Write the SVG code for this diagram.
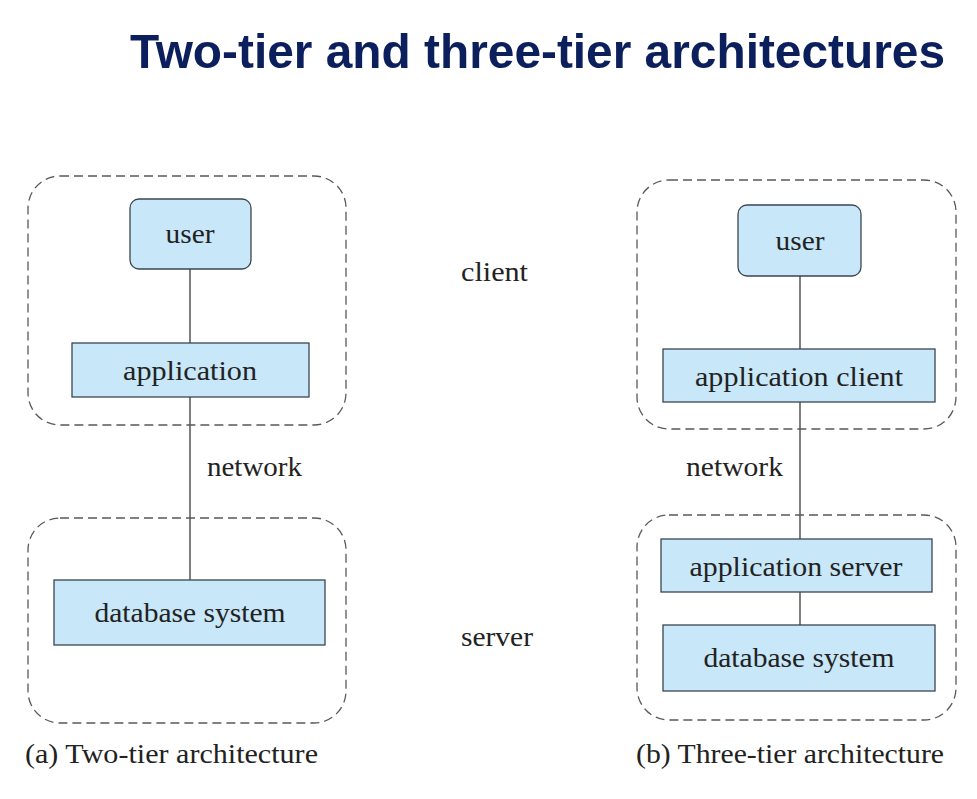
<svg xmlns="http://www.w3.org/2000/svg" width="977" height="799" viewBox="0 0 977 799">
<style>
.bg{fill:#ffffff}
.title{font-family:"Liberation Sans",Arial,sans-serif;font-weight:bold;font-size:49px;fill:#0b1f5c}
.grp{fill:none;stroke:#555a5e;stroke-width:1.3;stroke-dasharray:9,5}
.box{fill:#c8e7f8;stroke:#3c4650;stroke-width:1.3}
.lbl{font-family:"Liberation Serif","Times New Roman",serif;font-size:28px;fill:#222;text-anchor:middle}
.txt{font-family:"Liberation Serif","Times New Roman",serif;font-size:28px;fill:#222}
.ln{stroke:#3a3a3a;stroke-width:1.3;fill:none}
</style>
<rect class="bg" x="0" y="0" width="977" height="799"/>
<text class="title" x="130" y="68" textLength="815" lengthAdjust="spacingAndGlyphs">Two-tier and three-tier architectures</text>

<g id="connectors">
<line class="ln" x1="190" y1="269" x2="190" y2="343"/>
<line class="ln" x1="190" y1="397" x2="190" y2="580"/>
<line class="ln" x1="800" y1="276" x2="800" y2="349"/>
<line class="ln" x1="800" y1="402" x2="800" y2="539"/>
<line class="ln" x1="800" y1="592" x2="800" y2="625"/>
</g>

<g id="two-tier-client"><rect class="grp" x="28" y="176" width="318" height="249" rx="32"/></g>
<g id="two-tier-server"><rect class="grp" x="28" y="518" width="318" height="205" rx="32"/></g>
<g id="three-tier-client"><rect class="grp" x="637" y="180" width="319" height="249" rx="32"/></g>
<g id="three-tier-server"><rect class="grp" x="637" y="515" width="319" height="205" rx="32"/></g>

<g id="a-user">
<rect class="box" x="130" y="199" width="121" height="70" rx="9"/>
<text class="lbl" x="190" y="243" textLength="49" lengthAdjust="spacingAndGlyphs">user</text>
</g>
<g id="a-application">
<rect class="box" x="72" y="343" width="237" height="54"/>
<text class="lbl" x="190" y="380" textLength="134" lengthAdjust="spacingAndGlyphs">application</text>
</g>
<g id="a-database">
<rect class="box" x="54" y="580" width="271" height="65"/>
<text class="lbl" x="190" y="622" textLength="191" lengthAdjust="spacingAndGlyphs">database system</text>
</g>

<g id="b-user">
<rect class="box" x="738" y="205" width="123" height="71" rx="9"/>
<text class="lbl" x="800" y="250" textLength="49" lengthAdjust="spacingAndGlyphs">user</text>
</g>
<g id="b-appclient">
<rect class="box" x="663" y="349" width="272" height="53"/>
<text class="lbl" x="799" y="386" textLength="208" lengthAdjust="spacingAndGlyphs">application client</text>
</g>
<g id="b-appserver">
<rect class="box" x="661" y="539" width="271" height="53"/>
<text class="lbl" x="796" y="576" textLength="213" lengthAdjust="spacingAndGlyphs">application server</text>
</g>
<g id="b-database">
<rect class="box" x="663" y="625" width="272" height="66"/>
<text class="lbl" x="799" y="667" textLength="191" lengthAdjust="spacingAndGlyphs">database system</text>
</g>

<text class="txt" x="461" y="281" textLength="67" lengthAdjust="spacingAndGlyphs">client</text>
<text class="txt" x="207" y="476" textLength="95" lengthAdjust="spacingAndGlyphs">network</text>
<text class="txt" x="686" y="476" textLength="97" lengthAdjust="spacingAndGlyphs">network</text>
<text class="txt" x="461" y="646" textLength="72" lengthAdjust="spacingAndGlyphs">server</text>
<text class="txt" x="25" y="763" textLength="293" lengthAdjust="spacingAndGlyphs">(a) Two-tier architecture</text>
<text class="txt" x="636" y="763" textLength="308" lengthAdjust="spacingAndGlyphs">(b) Three-tier architecture</text>
</svg>
